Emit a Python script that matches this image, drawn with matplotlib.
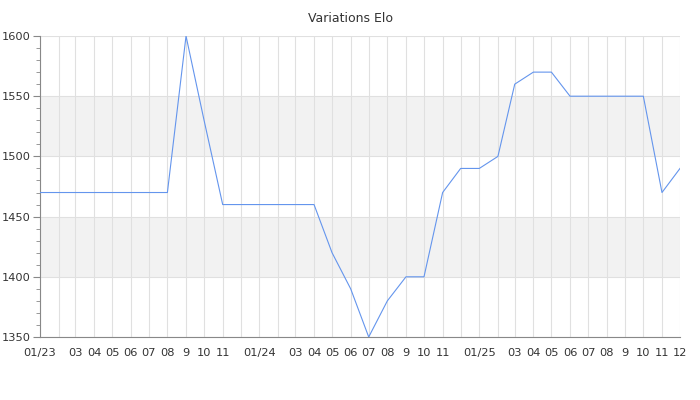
import matplotlib
matplotlib.use("Agg")
import matplotlib.pyplot as plt
import matplotlib.dates as mdates
from matplotlib.ticker import MultipleLocator, FixedLocator, FixedFormatter
import datetime as dt

months = [f"{y}-{m:02d}" for y in (2023, 2024, 2025) for m in range(1, 13)]
elo = [1470, 1470, 1470, 1470, 1470, 1470, 1470, 1470, 1600, 1530, 1460, 1460,
       1460, 1460, 1460, 1460, 1420, 1390, 1350, 1380, 1400, 1400, 1470, 1490,
       1490, 1500, 1560, 1570, 1570, 1550, 1550, 1550, 1550, 1550, 1470, 1490]
tick_labels = ["01/23", "", "03", "04", "05", "06", "07", "08", "9", "10", "11", "",
               "01/24", "", "03", "04", "05", "06", "07", "08", "9", "10", "11", "",
               "01/25", "", "03", "04", "05", "06", "07", "08", "9", "10", "11", "12"]
title = "Variations Elo"

dates = [dt.datetime.strptime(m, "%Y-%m") for m in months]
x = mdates.date2num(dates)

fig = plt.figure(figsize=(7, 4), dpi=100)
ax = fig.add_axes([40/700, 1-337/400, 640/700, 301/400])

text_color = "#333333"
grid_color = "#e0e0e0"

for lo, hi in [(1400, 1450), (1500, 1550)]:
    ax.axhspan(lo, hi, color="#f2f2f2", zorder=0, lw=0)

ax.plot(x, elo, color="#6495ED", lw=0.8, zorder=3)

ax.set_xlim(x[0], x[-1])
ax.set_ylim(1350, 1600)

ax.xaxis.set_major_locator(FixedLocator(x))
ax.xaxis.set_major_formatter(FixedFormatter(tick_labels))
ax.yaxis.set_major_locator(MultipleLocator(50))
ax.yaxis.set_minor_locator(MultipleLocator(10))

ax.grid(True, which="major", color=grid_color, lw=0.8, zorder=1)
ax.set_axisbelow(True)

for s in ["top", "right"]:
    ax.spines[s].set_visible(False)
for s in ["left", "bottom"]:
    ax.spines[s].set_color("#888888")
    ax.spines[s].set_linewidth(0.8)

ax.tick_params(axis="x", length=0, pad=8, labelsize=8.2, labelcolor=text_color)
ax.tick_params(axis="y", which="major", length=5, color="#888888", labelsize=8.2, labelcolor=text_color, pad=2)
ax.tick_params(axis="y", which="minor", length=3, color="#888888")

fig.suptitle(title, y=1-12/400, fontsize=9, color=text_color)

fig.savefig("out.png", dpi=100)
